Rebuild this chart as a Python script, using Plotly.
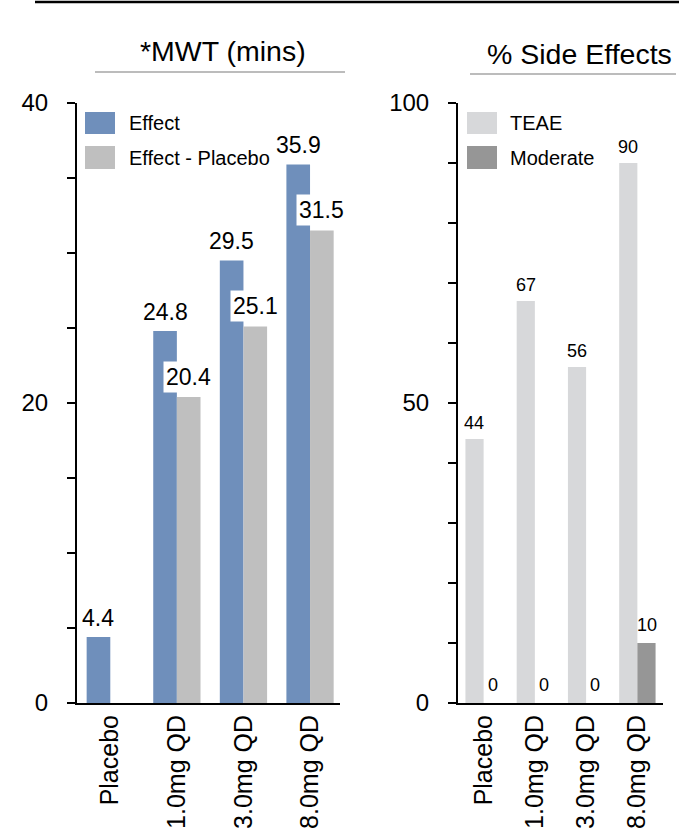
import plotly.graph_objects as go

# ---------------- data ----------------
categories = ["Placebo", "1.0mg QD", "3.0mg QD", "8.0mg QD"]
effect = [4.4, 24.8, 29.5, 35.9]
effect_minus_placebo = [None, 20.4, 25.1, 31.5]
teae = [44, 67, 56, 90]
moderate = [0, 0, 0, 10]

left_title = "*MWT (mins)"
right_title = "% Side Effects"
left_ticks = [0, 5, 10, 15, 20, 25, 30, 35, 40]
left_ticktext = ["0", "", "", "", "20", "", "", "", "40"]
right_ticks = [0, 10, 20, 30, 40, 50, 60, 70, 80, 90, 100]
right_ticktext = ["0", "", "", "", "", "50", "", "", "", "", "100"]

C_EFFECT = "#6F8FBB"
C_DIFF = "#BFBFBF"
C_TEAE = "#D7D8DA"
C_MOD = "#969696"

W, H = 679, 830
FONT = "Liberation Sans, Arial, sans-serif"


def fx(p):
    return p / W


def fy(p):
    return 1 - p / H


L_DOM = (77, 340)
R_DOM = (458, 663)
Y_DOM = (103, 703)
L_RANGE = (-0.5, 3.45)
R_RANGE = (-0.5, 3.5)
L_GAP = 0.29
R_GAP = 0.27

fig = go.Figure()

fig.add_trace(go.Bar(x=categories, y=effect, name="Effect", marker_color=C_EFFECT,
                     marker_line_width=0, xaxis="x", yaxis="y"))
fig.add_trace(go.Bar(x=categories, y=effect_minus_placebo, name="Effect - Placebo",
                     marker_color=C_DIFF, marker_line_width=0, xaxis="x", yaxis="y"))
fig.add_trace(go.Bar(x=categories, y=teae, name="TEAE", marker_color=C_TEAE,
                     marker_line_width=0, xaxis="x2", yaxis="y2"))
fig.add_trace(go.Bar(x=categories, y=moderate, name="Moderate", marker_color=C_MOD,
                     marker_line_width=0, xaxis="x2", yaxis="y2"))

annotations = []


def bar_shift(dom, rng, gap):
    px_per_cat = (dom[1] - dom[0]) / (rng[1] - rng[0])
    return (1 - gap) / 4 * px_per_cat


ls = bar_shift(L_DOM, L_RANGE, L_GAP)
rs = bar_shift(R_DOM, R_RANGE, R_GAP)

for c, v in zip(categories, effect):
    annotations.append(dict(x=c, y=v, xref="x", yref="y", text=f"{v:.1f}", showarrow=False,
                            xshift=-ls, yshift=4, yanchor="bottom",
                            font=dict(size=23, color="black", family=FONT)))
for c, v in zip(categories, effect_minus_placebo):
    if v is None:
        continue
    annotations.append(dict(x=c, y=v, xref="x", yref="y", text=f"{v:.1f}", showarrow=False,
                            xshift=ls, yshift=4, yanchor="bottom", bgcolor="white", borderpad=2,
                            font=dict(size=23, color="black", family=FONT)))
for c, v in zip(categories, teae):
    annotations.append(dict(x=c, y=v, xref="x2", yref="y2", text=f"{v}", showarrow=False,
                            xshift=-rs, yshift=4, yanchor="bottom",
                            font=dict(size=18, color="black", family=FONT)))
for c, v in zip(categories, moderate):
    annotations.append(dict(x=c, y=v, xref="x2", yref="y2", text=f"{v}", showarrow=False,
                            xshift=rs, yshift=6, yanchor="bottom",
                            font=dict(size=18, color="black", family=FONT)))

# titles
annotations.append(dict(x=fx(223), y=fy(51), xref="paper", yref="paper", text=left_title,
                        showarrow=False, xanchor="center", yanchor="middle",
                        font=dict(size=28.5, color="black", family=FONT)))
annotations.append(dict(x=fx(579), y=fy(54), xref="paper", yref="paper", text=right_title,
                        showarrow=False, xanchor="center", yanchor="middle",
                        font=dict(size=28.5, color="black", family=FONT)))

shapes = [
    dict(type="line", xref="paper", yref="paper", x0=fx(35), x1=fx(679), y0=fy(2), y1=fy(2),
         line=dict(color="black", width=2.5)),
    dict(type="line", xref="paper", yref="paper", x0=fx(95), x1=fx(345), y0=fy(72), y1=fy(72),
         line=dict(color="#A6A6A6", width=1.5)),
    dict(type="line", xref="paper", yref="paper", x0=fx(470), x1=fx(676), y0=fy(74), y1=fy(74),
         line=dict(color="#A6A6A6", width=1.5)),
]

# custom legends
legend_items = [
    (85, "Effect", C_EFFECT, 112, 134, 127),
    (85, "Effect - Placebo", C_DIFF, 146, 169, 127),
    (467, "TEAE", C_TEAE, 112, 134, 508),
    (467, "Moderate", C_MOD, 146, 169, 508),
]
for x0, label, col, y0, y1, tx in legend_items:
    shapes.append(dict(type="rect", xref="paper", yref="paper", x0=fx(x0), x1=fx(x0 + 30),
                       y0=fy(y1), y1=fy(y0), fillcolor=col, line=dict(width=0)))
    annotations.append(dict(x=fx(tx), y=fy((y0 + y1) / 2), xref="paper", yref="paper", text=label,
                            showarrow=False, xanchor="left", yanchor="middle",
                            font=dict(size=20, color="black", family=FONT)))

axis_common = dict(showline=True, linecolor="black", linewidth=2, showgrid=False, zeroline=False,
                   automargin=False)

fig.update_layout(
    template="none",
    width=W, height=H,
    margin=dict(l=0, r=0, t=0, b=0, pad=0),
    paper_bgcolor="white", plot_bgcolor="white",
    showlegend=False,
    barmode="group",
    bargap=L_GAP,
    font=dict(family=FONT, color="black"),
    xaxis=dict(domain=[fx(L_DOM[0]), fx(L_DOM[1])], range=list(L_RANGE), type="category",
               tickangle=-90, ticks="", tickfont=dict(size=25, color="black"), anchor="y",
               **axis_common),
    yaxis=dict(domain=[fy(Y_DOM[1]), fy(Y_DOM[0])], range=[0, 40], tickvals=left_ticks,
               ticktext=left_ticktext, ticks="outside", ticklen=8, tickwidth=2, tickcolor="black",
               tickfont=dict(size=24, color="black"), ticklabelstandoff=14, anchor="x",
               **axis_common),
    xaxis2=dict(domain=[fx(R_DOM[0]), fx(R_DOM[1])], range=list(R_RANGE), type="category",
                tickangle=-90, ticks="", tickfont=dict(size=25, color="black"), anchor="y2",
                **axis_common),
    yaxis2=dict(domain=[fy(Y_DOM[1]), fy(Y_DOM[0])], range=[0, 100], tickvals=right_ticks,
                ticktext=right_ticktext, ticks="outside", ticklen=8, tickwidth=2, tickcolor="black",
                tickfont=dict(size=24, color="black"), ticklabelstandoff=14, anchor="x2",
                **axis_common),
    annotations=annotations,
    shapes=shapes,
)

fig.write_html("out.html", config={"displayModeBar": False},
               post_script="document.body.style.margin='0';document.body.style.overflow='hidden';")
